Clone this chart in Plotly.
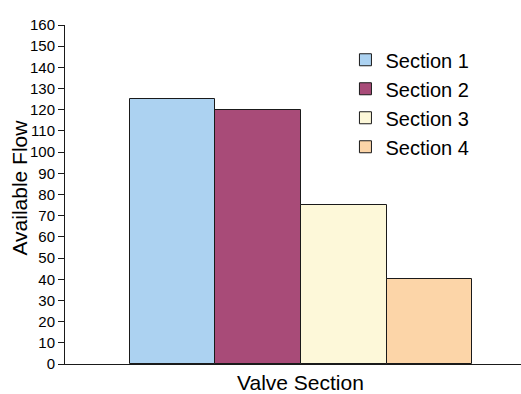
import plotly.graph_objects as go

# Available flow per valve section
sections = ["Section 1", "Section 2", "Section 3", "Section 4"]
flow = [125, 120, 75, 40]
colors = ["#acd2f1", "#a84b78", "#fdf8d9", "#fcd5a8"]
y_ticks = list(range(0, 161, 10))

FONT = "Liberation Sans, Arial, sans-serif"

fig = go.Figure()
for name, val, col in zip(sections, flow, colors):
    fig.add_trace(go.Bar(
        x=[name], y=[val], name=name, width=1,
        marker=dict(color=col, line=dict(color="#1a1a1a", width=1)),
    ))

fig.update_layout(
    width=521, height=394,
    margin=dict(l=65, r=0, t=25, b=30),
    paper_bgcolor="white", plot_bgcolor="white",
    barmode="overlay", bargap=0,
    font=dict(family=FONT, color="#000000"),
    showlegend=True,
    legend=dict(
        x=0.615, y=0.955, xanchor="left", yanchor="top",
        font=dict(family=FONT, size=20, color="#000000"),
        bgcolor="rgba(0,0,0,0)", tracegroupgap=0,
    ),
    xaxis=dict(
        type="category", categoryorder="array", categoryarray=sections,
        range=[-1.26, 4.073], showticklabels=False, ticks="",
        showgrid=False, zeroline=False,
        showline=True, linecolor="#1a1a1a", linewidth=1,
    ),
    yaxis=dict(
        range=[0, 160], tickvals=y_ticks, ticktext=[str(v) for v in y_ticks],
        ticks="outside", ticklen=6, tickcolor="#1a1a1a",
        tickfont=dict(family=FONT, size=15, color="#000000"),
        showgrid=False, zeroline=False,
        showline=True, linecolor="#1a1a1a", linewidth=1,
    ),
    annotations=[
        dict(
            text="Valve Section", x=1.5, xref="x", y=0, yref="paper",
            xanchor="center", yanchor="top", yshift=-5, showarrow=False,
            font=dict(family=FONT, size=21, color="#000000"),
        ),
        dict(
            text="Available Flow", textangle=-90,
            x=-0.099, xref="paper", y=0.52, yref="paper",
            xanchor="center", yanchor="middle", showarrow=False,
            font=dict(family=FONT, size=21, color="#000000"),
        ),
    ],
)

fig.write_html("out.html")
